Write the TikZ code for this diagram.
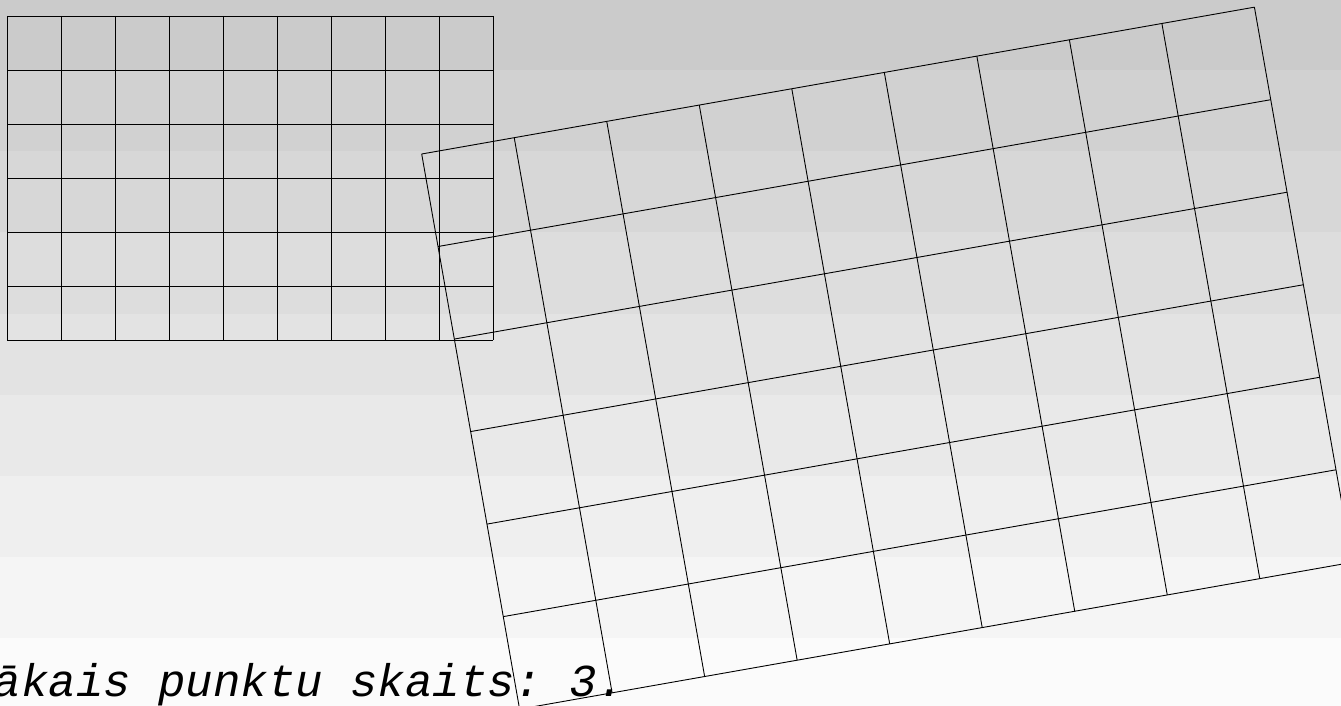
\documentclass[tikz,border=0pt]{standalone}
\usepackage{fontspec}
\setmonofont{Liberation Mono}

\begin{document}
\begin{tikzpicture}[
x=1pt, y=-1pt,
gridline/.style={draw=black, line width=0.9pt},
score/.style={anchor=base west, inner sep=0pt, font=\ttfamily\itshape\fontsize{45.7}{50}\selectfont}
]
\useasboundingbox (0,0) rectangle (1341,706);
\clip (0,0) rectangle (1341,706);

% background bands
\foreach \i in {0,...,8} {
  \pgfmathtruncatemacro\v{203+6*\i}
  \fill[fill={rgb,255:red,\v;green,\v;blue,\v}] (0,-11+81.14*\i) rectangle (1341,71.5+81.14*\i);
}

% small grid
\foreach \c in {0,...,9}
  \draw[gridline] (7.3+54*\c,16) -- (7.3+54*\c,340);
\foreach \r in {0,...,6}
  \draw[gridline] (7.3,16+54*\r) -- (493.3,16+54*\r);

% rotated grid
\begin{scope}[shift={(421.7,154)}, rotate=10]
\foreach \c in {0,...,9}
  \draw[gridline] (93.95*\c,0) -- (93.95*\c,563.7);
\foreach \r in {0,...,6}
  \draw[gridline] (0,93.95*\r) -- (845.55,93.95*\r);
\end{scope}

\node[score] (points) at (-6.3,696.7) {ākais punktu skaits: 3.};
\end{tikzpicture}
\end{document}
